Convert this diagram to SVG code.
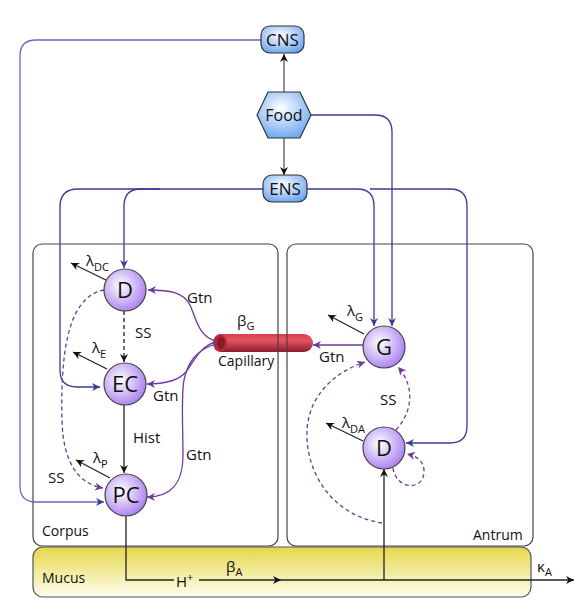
<svg xmlns="http://www.w3.org/2000/svg" width="579" height="614" viewBox="0 0 579 614">
<style>
text{font-family:"Open Sans","Liberation Sans",Arial,sans-serif;fill:#111;}
.lbl{font-size:15px;}
.sm{font-size:14px;}
.node{font-size:22px;text-anchor:middle;}
.box{font-size:17px;text-anchor:middle;}
.sub{font-size:11px;}
.blk{fill:none;stroke:#222;stroke-width:1.3;}
.pur{fill:none;stroke:#6a3a9e;stroke-width:1.3;}
.blu{fill:none;stroke:#3a3a9a;stroke-width:1.3;}
.cns{fill:none;stroke:#6a6ab8;stroke-width:1.3;}
.dash{stroke-dasharray:4,3;}
.circ{fill:url(#cg);stroke:#444;stroke-width:1.2;}
.rbox{fill:url(#bg);stroke:#333;stroke-width:1.2;}
.region{fill:none;stroke:#444;stroke-width:1.2;}
</style>
<defs>
<radialGradient id="cg" cx="0.4" cy="0.4" r="0.65">
<stop offset="0" stop-color="#ffffff"/>
<stop offset="1" stop-color="#a87ef0"/>
</radialGradient>
<radialGradient id="bg" cx="0.45" cy="0.35" r="0.75">
<stop offset="0" stop-color="#ffffff"/>
<stop offset="1" stop-color="#5d9cef"/>
</radialGradient>
<linearGradient id="rg" x1="0" y1="0" x2="0" y2="1">
<stop offset="0" stop-color="#d7404c"/>
<stop offset="0.35" stop-color="#e45562"/>
<stop offset="1" stop-color="#8e1c28"/>
</linearGradient>
<linearGradient id="mg" x1="0" y1="0" x2="0" y2="1">
<stop offset="0" stop-color="#e5d84a"/>
<stop offset="1" stop-color="#fffdf0"/>
</linearGradient>
<marker id="ab" viewBox="0 0 10 10" refX="10" refY="5" markerWidth="9" markerHeight="8" markerUnits="userSpaceOnUse" orient="auto"><path d="M0,0 L10,5 L0,10 L3,5 z" fill="#111"/></marker>
<marker id="ap" viewBox="0 0 10 10" refX="10" refY="5" markerWidth="9" markerHeight="8" markerUnits="userSpaceOnUse" orient="auto"><path d="M0,0 L10,5 L0,10 L3,5 z" fill="#6a3a9e"/></marker>
<marker id="au" viewBox="0 0 10 10" refX="10" refY="5" markerWidth="9" markerHeight="8" markerUnits="userSpaceOnUse" orient="auto"><path d="M0,0 L10,5 L0,10 L3,5 z" fill="#3a3a9a"/></marker>
</defs>

<!-- Mucus layer -->
<g id="mucus">
<rect x="33" y="547" width="498" height="50" rx="10" fill="url(#mg)" stroke="#555" stroke-width="1.2"/>
<text class="sm" x="42" y="583">Mucus</text>
</g>

<!-- Capillary -->
<g id="capillary">
<path d="M220,334 H304 A9,9 0 0 1 304,352 H220 Z" fill="url(#rg)"/>
<ellipse cx="220" cy="343" rx="7" ry="9" fill="#b22c3a"/>
<ellipse cx="221" cy="343" rx="4" ry="6.5" fill="#8a1a26"/>
<text class="lbl" x="237" y="326">β<tspan class="sub" dy="4">G</tspan></text>
<text class="lbl" x="218" y="366" style="font-size:14px">Capillary</text>
</g>

<!-- Regions -->
<g id="corpus">
<rect class="region" x="33" y="244" width="245" height="302" rx="9"/>
<text class="sm" x="42" y="536">Corpus</text>
</g>
<g id="antrum">
<rect class="region" x="287" y="244" width="246" height="302" rx="9"/>
<text class="sm" x="473" y="540">Antrum</text>
</g>

<!-- Connectors -->
<g id="connectors">
<line class="blk" x1="284" y1="92" x2="284" y2="54" marker-end="url(#ab)" style="stroke:#555"/>
<line class="blk" x1="284" y1="138" x2="284" y2="175" marker-end="url(#ab)" style="stroke:#555"/>
<path class="cns" d="M261,40 H36 Q20,40 20,56 V486 Q20,502 36,502 H104" marker-end="url(#au)"/>
<path class="blu" d="M263,189 H78 Q60,189 60,207 V370 Q60,387 77,387 H100" marker-end="url(#au)"/>
<path class="blu" d="M160,189 H141 Q124,189 124,206 V268" marker-end="url(#au)"/>
<path class="blu" d="M307,189 H357 Q374,189 374,206 V326" marker-end="url(#au)"/>
<path class="blu" d="M370,189 H450 Q467,189 467,206 V426 Q467,443 450,443 H406" marker-end="url(#au)"/>
<path class="blu" d="M311,115 H375 Q392,115 392,132 V326" marker-end="url(#au)"/>

<line class="blk" x1="106" y1="280" x2="71" y2="263" marker-end="url(#ab)"/>
<line class="blk" x1="107" y1="369" x2="73" y2="352" marker-end="url(#ab)"/>
<line class="blk" x1="110" y1="478" x2="76" y2="460" marker-end="url(#ab)"/>
<line class="blk" x1="364" y1="334" x2="328" y2="315" marker-end="url(#ab)"/>
<line class="blk" x1="363" y1="441" x2="326" y2="423" marker-end="url(#ab)"/>

<line class="blk dash" x1="124" y1="311" x2="124" y2="362" marker-end="url(#ab)"/>
<line class="blk" x1="124" y1="405" x2="124" y2="473" marker-end="url(#ab)"/>
<path class="blk" d="M126,516 V580 H174"/>
<line class="blk" x1="199" y1="580" x2="281" y2="580" marker-end="url(#ab)"/>
<line class="blk" x1="281" y1="580" x2="574" y2="580" marker-end="url(#ab)"/>
<line class="blk" x1="384" y1="580" x2="384" y2="469" marker-end="url(#ab)"/>

<path class="pur" d="M216,341 C198,336 196,318 190,305 C183,292 170,290 148,290" marker-end="url(#ap)"/>
<path class="pur" d="M216,342 C200,346 195,360 186,372 C178,381 165,384 147,384" marker-end="url(#ap)"/>
<path class="pur" d="M216,344 C196,350 188,362 184,380 C181,395 183,430 183,455 C183,485 170,497 147,497" marker-end="url(#ap)"/>
<line class="pur" x1="363" y1="345" x2="313" y2="345" marker-end="url(#ap)"/>

<path class="pur dash" d="M104,290 C72,296 60,340 62,420 C63,465 80,484 103,488" marker-end="url(#ap)"/>
<path class="pur dash" d="M396,430 C414,410 414,385 398,367" marker-end="url(#ap)"/>
<path class="pur dash" d="M382,523 C330,515 305,470 307,430 C309,395 335,372 365,362" marker-end="url(#ap)"/>
<path class="pur dash" d="M393,468 C396,490 425,492 424,470 C423,460 416,456 407,454" marker-end="url(#ap)"/>
</g>

<!-- Top nodes -->
<g id="CNS">
<rect class="rbox" x="261" y="26" width="43" height="27" rx="9"/>
<text class="box" x="282.5" y="46">CNS</text>
</g>
<g id="Food">
<polygon class="rbox" points="257,115 268,92 300,92 311,115 300,138 268,138"/>
<text class="box" x="284" y="121" style="font-size:16px">Food</text>
</g>
<g id="ENS">
<rect class="rbox" x="263" y="175" width="44" height="27" rx="9"/>
<text class="box" x="285" y="195">ENS</text>
</g>

<!-- Cells -->
<g id="D_corpus">
<circle class="circ" cx="125" cy="290" r="21"/>
<text class="node" x="125" y="298">D</text>
<text class="lbl" x="86" y="266">λ<tspan class="sub" dy="5">DC</tspan></text>
</g>
<g id="EC">
<circle class="circ" cx="125" cy="384" r="21"/>
<text class="node" x="125" y="392">EC</text>
<text class="lbl" x="92" y="353">λ<tspan class="sub" dy="5">E</tspan></text>
</g>
<g id="PC">
<circle class="circ" cx="126" cy="495" r="21"/>
<text class="node" x="126" y="503">PC</text>
<text class="lbl" x="93" y="463">λ<tspan class="sub" dy="5">P</tspan></text>
</g>
<g id="G">
<circle class="circ" cx="384" cy="347" r="21"/>
<text class="node" x="384" y="355">G</text>
<text class="lbl" x="347" y="316">λ<tspan class="sub" dy="5">G</tspan></text>
</g>
<g id="D_antrum">
<circle class="circ" cx="384" cy="448" r="21"/>
<text class="node" x="384" y="456">D</text>
<text class="lbl" x="342" y="428">λ<tspan class="sub" dy="5">DA</tspan></text>
</g>

<!-- Labels -->
<g id="labels">
<text class="lbl" x="187" y="303">Gtn</text>
<text class="lbl" x="135" y="338">SS</text>
<text class="lbl" x="153" y="401">Gtn</text>
<text class="lbl" x="133" y="443">Hist</text>
<text class="lbl" x="186" y="460">Gtn</text>
<text class="lbl" x="48" y="483">SS</text>
<text class="lbl" x="319" y="362">Gtn</text>
<text class="lbl" x="380" y="405">SS</text>
<text class="lbl" x="176" y="587">H<tspan class="sub" dy="-6">+</tspan></text>
<text class="lbl" x="226" y="572">β<tspan class="sub" dy="4">A</tspan></text>
<text class="lbl" x="537" y="572">κ<tspan class="sub" dy="4">A</tspan></text>
</g>
</svg>
